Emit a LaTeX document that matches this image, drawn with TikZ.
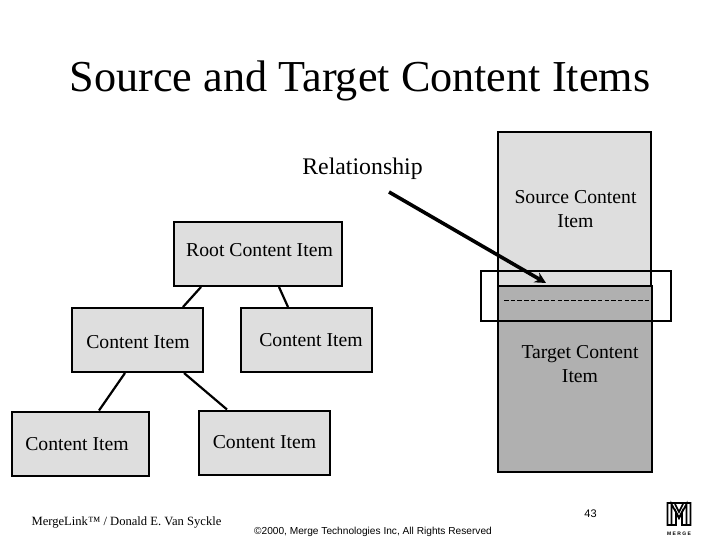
\documentclass[tikz,border=0pt]{standalone}
\usepackage{fontspec}
\setmainfont{Liberation Serif}
\newfontfamily\footsans{Liberation Sans}
\usetikzlibrary{calc, arrows.meta}

\definecolor{itemgray}{gray}{0.87}
\definecolor{targetgray}{gray}{0.69}

\tikzset{
    itembox/.style={draw=black, line width=2pt, fill=itemgray, minimum width=#1, minimum height=64pt, inner sep=0pt},
    itemlabel/.style={font=\fontsize{19.7}{24}\selectfont, align=center, inner sep=0pt},
    link/.style={line width=2.2pt},
    logoline/.style={line width=1.7pt}
}

\begin{document}
\begin{tikzpicture}[x=1pt, y=-1pt]
    \useasboundingbox (0, 0) rectangle (720, 540);
    \fill[white] (0, 0) rectangle (720, 540);

    \node[font=\fontsize{44.2}{50}\selectfont, inner sep=0pt] (title) at (360, 81) {Source and Target Content Items};

    % right column
    \node[itembox=153pt, minimum height=154pt] (source) at (574.5, 209) {};
    \node[itembox=154pt, minimum height=186pt, fill=targetgray] (target) at (575, 379) {};
    \node[draw=black, line width=2pt, minimum width=190pt, minimum height=50pt, inner sep=0pt] (overlap) at (576, 296) {};
    \draw[line width=1pt, dash pattern=on 4.5pt off 2.2pt] (504, 300) -- (650, 300);

    % tree
    \node[itembox=168pt] (root) at (258, 254) {};
    \node[itembox=131pt] (midl) at (137.5, 340) {};
    \node[itembox=131pt] (midr) at (306.5, 340) {};
    \node[itembox=137pt] (botl) at (80.5, 443.5) {};
    \node[itembox=131pt] (botr) at (264.5, 442.5) {};

    \draw[link] ([xshift=-57pt]root.south) -- ([xshift=45.5pt]midl.north);
    \draw[link] ([xshift=21pt]root.south) -- ([xshift=-18.5pt]midr.north);
    \draw[link] ([xshift=-12.5pt]midl.south) -- ([xshift=18.5pt]botl.north);
    \draw[link] ([xshift=46.5pt]midl.south) -- ([xshift=-37.5pt]botr.north);

    \node[itemlabel] (rootlabel) at (259.5, 250) {Root Content Item};
    \node[itemlabel] (midllabel) at (138, 342) {Content Item};
    \node[itemlabel] (midrlabel) at (311, 340) {Content Item};
    \node[itemlabel] (botllabel) at (77, 444) {Content Item};
    \node[itemlabel] (botrlabel) at (264.5, 442) {Content Item};
    \node[itemlabel] (sourcelabel) at (575.5, 209) {Source Content\\Item};
    \node[itemlabel] (targetlabel) at (580, 364) {Target Content\\Item};
    \node[itemlabel, font=\fontsize{23.8}{24}\selectfont] (relation) at (362.5, 169) {Relationship};

    \coordinate (relstart) at (389, 192);
    \coordinate (reltip) at (546, 283);
    \draw[line width=3.6pt, -{Stealth[length=11pt, width=11pt]}] (relstart) -- (reltip);

    % footer
    \node[font=\fontsize{12.6}{14}\selectfont, inner sep=0pt] (credit) at (126.5, 522) {MergeLink\texttrademark{} / Donald E. Van Syckle};
    \node[font=\footsans\fontsize{10.15}{12}\selectfont, inner sep=0pt] (rights) at (373, 531.5) {\textcopyright 2000, Merge Technologies Inc, All Rights Reserved};
    \node[font=\footsans\fontsize{11}{12}\selectfont, inner sep=0pt] (page) at (590.5, 514) {43};

    % logo
    \draw[logoline] (667.5, 525) -- (667.5, 503) -- (690.5, 503) -- (690.5, 525) -- (682, 525) -- (682, 512) -- (679, 518) -- (676, 512) -- (676, 525) -- cycle;
    \draw[logoline] (671.5, 525) -- (671.5, 504) -- (679, 518) -- (686.5, 504) -- (686.5, 525);
    \draw[logoline] (675, 504) -- (679, 512) -- (683, 504);
    \node[font=\footsans\bfseries\fontsize{5}{5}\selectfont, inner sep=0pt] (merge) at (679, 533.5) {M E R G E};
\end{tikzpicture}
\end{document}
